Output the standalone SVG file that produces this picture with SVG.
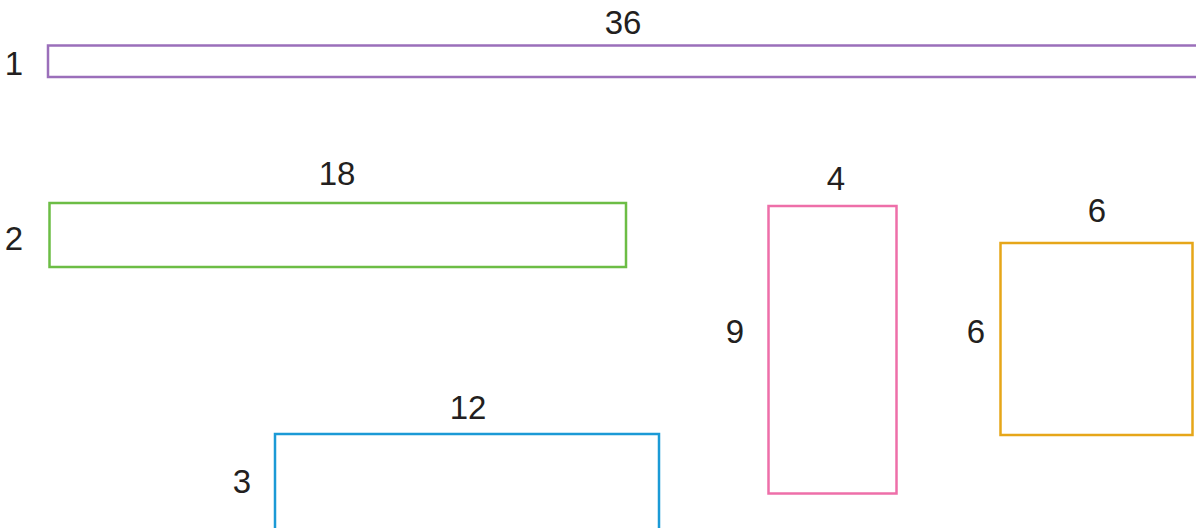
<svg xmlns="http://www.w3.org/2000/svg" width="1196" height="528" viewBox="0 0 1196 528">
<style>
.r{fill:none;stroke-width:2.5}
.t{font-family:"Liberation Sans",Arial,sans-serif;font-size:33px;fill:#231f20;text-anchor:middle}
</style>
<rect width="1196" height="528" fill="#ffffff"/>
<g id="rect-1x36">
<rect class="r" x="48" y="45.5" width="1170" height="31.5" stroke="#9b6fba"/>
<text class="t" x="623" y="34">36</text>
<text class="t" x="14" y="75">1</text>
</g>
<g id="rect-2x18">
<rect class="r" x="49.5" y="203" width="576.5" height="64" stroke="#6cbd45"/>
<text class="t" x="337" y="185">18</text>
<text class="t" x="14" y="250">2</text>
</g>
<g id="rect-9x4">
<rect class="r" x="768.5" y="206" width="128" height="287.5" stroke="#ee6fa9"/>
<text class="t" x="836" y="190">4</text>
<text class="t" x="735" y="343">9</text>
</g>
<g id="rect-6x6">
<rect class="r" x="1000.5" y="243" width="192" height="192" stroke="#e6a619"/>
<text class="t" x="1097" y="222">6</text>
<text class="t" x="976" y="343">6</text>
</g>
<g id="rect-3x12">
<rect class="r" x="275" y="434" width="384" height="120" stroke="#1b9ad6"/>
<text class="t" x="468" y="419">12</text>
<text class="t" x="242" y="493">3</text>
</g>
<g id="connectors"></g>
</svg>
